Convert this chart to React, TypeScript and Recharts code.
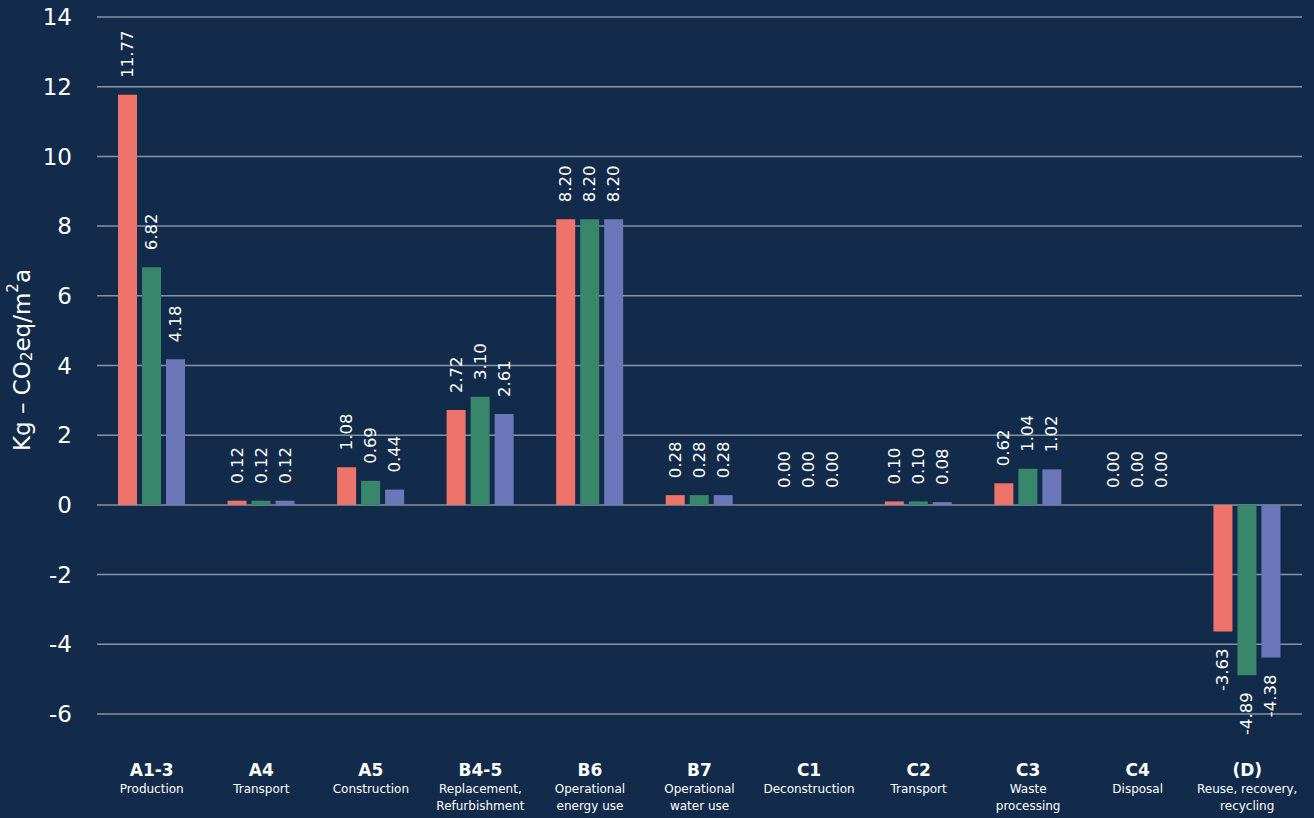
import React from 'react';
import { BarChart, Bar, XAxis, YAxis, CartesianGrid, LabelList } from 'recharts';

const codes = ['A1-3', 'A4', 'A5', 'B4-5', 'B6', 'B7', 'C1', 'C2', 'C3', 'C4', '(D)'];
const subtitles: string[][] = [
  ['Production'],
  ['Transport'],
  ['Construction'],
  ['Replacement,', 'Refurbishment'],
  ['Operational', 'energy use'],
  ['Operational', 'water use'],
  ['Deconstruction'],
  ['Transport'],
  ['Waste', 'processing'],
  ['Disposal'],
  ['Reuse, recovery,', 'recycling'],
];
const seriesRed = [11.77, 0.12, 1.08, 2.72, 8.2, 0.28, 0, 0.1, 0.62, 0, -3.63];
const seriesGreen = [6.82, 0.12, 0.69, 3.1, 8.2, 0.28, 0, 0.1, 1.04, 0, -4.89];
const seriesBlue = [4.18, 0.12, 0.44, 2.61, 8.2, 0.28, 0, 0.08, 1.02, 0, -4.38];
const yTicks = [-6, -4, -2, 0, 2, 4, 6, 8, 10, 12, 14];

const data = codes.map((c, i) => ({
  code: c,
  red: seriesRed[i],
  green: seriesGreen[i],
  blue: seriesBlue[i],
}));

const BG = '#132b4a';
const FONT = '"DejaVu Sans", "Open Sans", sans-serif';

const ValueLabel = (props: any) => {
  const { x, y, width, height, value } = props;
  const cx = Number(x) + Number(width) / 2;
  const top = Math.min(Number(y), Number(y) + Number(height));
  const bottom = Math.max(Number(y), Number(y) + Number(height));
  const v = Number(value);
  const text = v.toFixed(2);
  const neg = v < 0;
  const ty = neg ? bottom + 17 : top - 17;
  return (
    <text
      x={cx}
      y={ty}
      transform={`rotate(-90, ${cx}, ${ty})`}
      textAnchor={neg ? 'end' : 'start'}
      dominantBaseline="central"
      fill="#ffffff"
      fontSize={16.5}
      fontWeight={400}
      fontFamily={FONT}
    >
      {text}
    </text>
  );
};

const XTick = (props: any) => {
  const { x, y, payload } = props;
  const idx = codes.indexOf(payload.value);
  const subs = idx >= 0 ? subtitles[idx] : [];
  return (
    <g>
      <text
        x={x}
        y={y + 62}
        textAnchor="middle"
        fill="#ffffff"
        fontSize={17}
        fontWeight={700}
        fontFamily={FONT}
      >
        {payload.value}
      </text>
      {subs.map((s, i) => (
        <text
          key={i}
          x={x}
          y={y + 79 + i * 17}
          textAnchor="middle"
          fill="#ffffff"
          fontSize={12}
          fontWeight={400}
          fontFamily={FONT}
        >
          {s}
        </text>
      ))}
    </g>
  );
};

const YLabel = () => {
  const cx = 22;
  const cy = 360;
  return (
    <text
      x={cx}
      y={cy}
      transform={`rotate(-90, ${cx}, ${cy})`}
      textAnchor="middle"
      dominantBaseline="central"
      fill="#ffffff"
      fontSize={23}
      fontWeight={400}
      fontFamily={FONT}
    >
      <tspan>Kg – CO</tspan>
      <tspan fontSize={15} dy={5}>2</tspan>
      <tspan dy={-5}>eq/m</tspan>
      <tspan fontSize={15} dy={-9}>2</tspan>
      <tspan dy={9}>a</tspan>
    </text>
  );
};

export default function App() {
  return (
    <div
      style={{
        position: 'absolute',
        left: 0,
        top: 0,
        width: 1314,
        height: 818,
        background: BG,
        overflow: 'hidden',
      }}
    >
      <BarChart
        width={1314}
        height={818}
        data={data}
        margin={{ top: 17, right: 12, bottom: 4, left: 0 }}
        barGap={5}
        barCategoryGap="19%"
      >
        <CartesianGrid vertical={false} stroke="#8593a3" strokeWidth={1.5} />
        <XAxis
          dataKey="code"
          axisLine={false}
          tickLine={false}
          tickSize={0}
          tickMargin={0}
          height={100}
          interval={0}
          tick={<XTick />}
        />
        <YAxis
          domain={[-6, 14]}
          ticks={yTicks}
          axisLine={false}
          tickLine={false}
          tickSize={0}
          tickMargin={25}
          width={97}
          tick={{ fill: '#ffffff', fontSize: 23, fontFamily: FONT, fontWeight: 400 }}
          label={<YLabel />}
        />
        <Bar dataKey="red" fill="#ee736a" barSize={19} minPointSize={0.01} isAnimationActive={false}>
          <LabelList dataKey="red" content={<ValueLabel />} />
        </Bar>
        <Bar dataKey="green" fill="#38876b" barSize={19} minPointSize={0.01} isAnimationActive={false}>
          <LabelList dataKey="green" content={<ValueLabel />} />
        </Bar>
        <Bar dataKey="blue" fill="#6c77ba" barSize={19} minPointSize={0.01} isAnimationActive={false}>
          <LabelList dataKey="blue" content={<ValueLabel />} />
        </Bar>
      </BarChart>
    </div>
  );
}
